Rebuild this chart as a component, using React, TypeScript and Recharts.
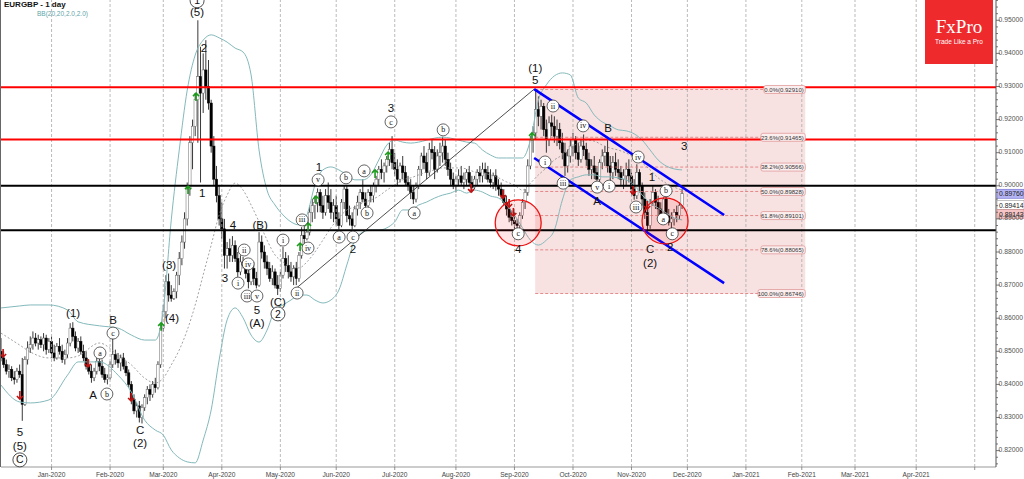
import React from 'react';
import {
  ComposedChart, Bar, Line, Scatter, XAxis, YAxis,
  ReferenceLine, ReferenceArea, ReferenceDot,
} from 'recharts';

// EURGBP daily, Dec 2019 - Nov 2020, prices in pips (0.8500 -> 8500)
const opens = [
  8500, 8480, 8460, 8440, 8445, 8420, 8415, 8440, 8430, 8340, 8475, 8510, 8520, 8540, 8525, 8535, 8520, 8540, 8505, 8530,
  8495, 8480, 8515, 8500, 8475, 8490, 8525, 8570, 8545, 8510, 8530, 8500, 8480, 8455, 8440, 8420, 8440, 8470, 8455, 8430,
  8415, 8420, 8460, 8490, 8475, 8465, 8480, 8455, 8435, 8400, 8355, 8320, 8335, 8300, 8330, 8360, 8385, 8370, 8400, 8390,
  8460, 8570, 8620, 8710, 8670, 8660, 8680, 8730, 8780, 8830, 8900, 8990, 9130, 9180, 9260, 9330, 9280, 9350, 9300, 9250,
  9120, 9020, 8970, 8900, 8870, 8790, 8810, 8790, 8820, 8780, 8740, 8770, 8760, 8735, 8710, 8750, 8720, 8700, 8830, 8800,
  8770, 8750, 8720, 8740, 8700, 8690, 8730, 8780, 8760, 8740, 8725, 8750, 8720, 8790, 8850, 8840, 8860, 8920, 8940, 8950,
  8980, 8940, 8920, 8970, 8950, 8920, 8940, 8900, 8880, 8950, 8990, 8910, 8900, 8880, 8930, 8950, 8980, 8960, 8940, 8980,
  8970, 9000, 9020, 9050, 9040, 9060, 9080, 9110, 9070, 9050, 9020, 9060, 9040, 9010, 9000, 8980, 8960, 9000, 9050, 9090,
  9070, 9040, 9110, 9100, 9050, 9090, 9100, 9120, 9080, 9050, 9020, 9000, 9020, 9030, 9010, 9020, 9040, 9010, 8995, 9020,
  9040, 9030, 9050, 9040, 9020, 9010, 9030, 9000, 8990, 8970, 8950, 8930, 8905, 8895, 8885, 8880, 8910, 8950, 8980, 9060,
  9140, 9160, 9230, 9210, 9240, 9170, 9140, 9190, 9180, 9150, 9170, 9130, 9100, 9060, 9090, 9120, 9140, 9100, 9080, 9120,
  9110, 9080, 9050, 9060, 9040, 9020, 9070, 9090, 9100, 9060, 9040, 9070, 9050, 9040, 9020, 9030, 9050, 9030, 8990, 8970,
  9040, 9000, 8960, 8920, 8880, 8950, 8980, 8950, 8930, 8915, 8960, 8910, 8890, 8900, 8920, 8910, 8940,
];
const highs = [
  8540, 8500, 8475, 8460, 8455, 8440, 8450, 8460, 8480, 8485, 8530, 8545, 8560, 8555, 8550, 8545, 8555, 8550, 8540, 8545,
  8520, 8525, 8540, 8520, 8505, 8540, 8585, 8588, 8560, 8540, 8545, 8520, 8500, 8475, 8460, 8450, 8480, 8490, 8475, 8450,
  8430, 8470, 8545, 8505, 8495, 8490, 8495, 8470, 8445, 8410, 8370, 8345, 8350, 8340, 8370, 8395, 8400, 8410, 8420, 8470,
  8580, 8640, 8730, 8735, 8700, 8690, 8740, 8800, 8850, 8920, 9010, 9150, 9200, 9280, 9500, 9420, 9400, 9440, 9380, 9260,
  9150, 9060, 9000, 8950, 8900, 8830, 8840, 8848, 8835, 8800, 8790, 8785, 8775, 8760, 8760, 8770, 8740, 8860, 8850, 8820,
  8790, 8770, 8760, 8750, 8730, 8740, 8815, 8800, 8790, 8770, 8760, 8770, 8800, 8875, 8880, 8870, 8940, 8960, 8970, 8992,
  8990, 8970, 8990, 9010, 8990, 8960, 8970, 8920, 8960, 9000, 9000, 8940, 8920, 8940, 8970, 8990, 9020, 8980, 8990, 9000,
  9010, 9030, 9060, 9080, 9070, 9090, 9130, 9150, 9100, 9080, 9070, 9090, 9060, 9030, 9020, 9000, 9010, 9060, 9100, 9120,
  9100, 9130, 9140, 9120, 9110, 9130, 9148, 9140, 9100, 9070, 9040, 9030, 9050, 9060, 9040, 9050, 9060, 9030, 9030, 9050,
  9060, 9070, 9070, 9060, 9050, 9040, 9050, 9020, 9010, 8990, 8970, 8950, 8925, 8920, 8900, 8920, 8960, 8990, 9080, 9150,
  9180, 9292, 9270, 9260, 9250, 9200, 9210, 9215, 9210, 9200, 9190, 9160, 9130, 9110, 9140, 9160, 9150, 9130, 9140, 9155,
  9130, 9100, 9080, 9090, 9060, 9080, 9110, 9120, 9148, 9090, 9090, 9100, 9080, 9060, 9050, 9070, 9080, 9040, 9020, 9065,
  9050, 9010, 8980, 8940, 8960, 9000, 8990, 8970, 8950, 8965, 8970, 8930, 8920, 8930, 8940, 8950, 8990,
];
const lows = [
  8470, 8450, 8430, 8420, 8410, 8400, 8405, 8420, 8290, 8335, 8460, 8495, 8505, 8515, 8505, 8510, 8500, 8490, 8495, 8480,
  8470, 8475, 8490, 8465, 8460, 8480, 8515, 8530, 8500, 8495, 8490, 8470, 8445, 8430, 8405, 8410, 8430, 8440, 8420, 8405,
  8400, 8415, 8450, 8460, 8450, 8440, 8445, 8425, 8390, 8340, 8310, 8300, 8285, 8282, 8320, 8340, 8350, 8360, 8375, 8385,
  8450, 8560, 8600, 8650, 8650, 8655, 8660, 8700, 8760, 8810, 8880, 8970, 9050, 9150, 9130, 9010, 9220, 9260, 9230, 9100,
  9000, 8950, 8880, 8840, 8750, 8750, 8770, 8770, 8770, 8725, 8730, 8750, 8720, 8690, 8700, 8700, 8690, 8695, 8780, 8750,
  8730, 8710, 8700, 8690, 8670, 8680, 8720, 8740, 8720, 8710, 8700, 8700, 8710, 8780, 8820, 8835, 8850, 8890, 8900, 8920,
  8920, 8900, 8910, 8930, 8900, 8890, 8880, 8868, 8875, 8930, 8890, 8880, 8868, 8875, 8910, 8930, 8950, 8920, 8930, 8950,
  8950, 8980, 9000, 9020, 9010, 9040, 9060, 9050, 9030, 9000, 9010, 9020, 9000, 8985, 8960, 8945, 8950, 8990, 9030, 9050,
  9020, 9030, 9080, 9020, 9040, 9060, 9070, 9060, 9030, 9000, 8990, 8980, 9000, 9000, 8990, 9000, 9000, 8980, 8990, 9000,
  9010, 9010, 9020, 9010, 8995, 8990, 8985, 8970, 8960, 8940, 8910, 8890, 8880, 8870, 8865, 8870, 8900, 8930, 8970, 9050,
  9100, 9140, 9180, 9170, 9150, 9100, 9120, 9150, 9130, 9120, 9110, 9080, 9030, 9040, 9070, 9090, 9080, 9060, 9070, 9090,
  9060, 9030, 9020, 9020, 9015, 9010, 9050, 9060, 9040, 9010, 9020, 9030, 9020, 9000, 8990, 9000, 9010, 8970, 8958, 8960,
  8980, 8940, 8900, 8860, 8870, 8940, 8930, 8910, 8910, 8910, 8900, 8880, 8868, 8880, 8890, 8900, 8930,
];
const closes = [
  8480, 8460, 8440, 8445, 8420, 8415, 8440, 8430, 8340, 8475, 8510, 8520, 8540, 8525, 8535, 8520, 8540, 8505, 8530, 8495,
  8480, 8515, 8500, 8475, 8490, 8525, 8570, 8545, 8510, 8530, 8500, 8480, 8455, 8440, 8420, 8440, 8470, 8455, 8430, 8415,
  8420, 8460, 8490, 8475, 8465, 8480, 8455, 8435, 8400, 8355, 8320, 8335, 8300, 8330, 8360, 8385, 8370, 8400, 8390, 8460,
  8570, 8620, 8710, 8670, 8660, 8680, 8730, 8780, 8830, 8900, 8990, 9130, 9180, 9260, 9330, 9280, 9350, 9300, 9250, 9120,
  9020, 8970, 8900, 8870, 8790, 8810, 8790, 8820, 8780, 8740, 8770, 8760, 8735, 8710, 8750, 8720, 8700, 8830, 8800, 8770,
  8750, 8720, 8740, 8700, 8690, 8730, 8780, 8760, 8740, 8725, 8750, 8720, 8790, 8850, 8840, 8860, 8920, 8940, 8950, 8980,
  8940, 8920, 8970, 8950, 8920, 8940, 8900, 8880, 8950, 8990, 8910, 8900, 8880, 8930, 8950, 8980, 8960, 8940, 8980, 8970,
  9000, 9020, 9050, 9040, 9060, 9080, 9110, 9070, 9050, 9020, 9060, 9040, 9010, 9000, 8980, 8960, 9000, 9050, 9090, 9070,
  9040, 9110, 9100, 9050, 9090, 9100, 9120, 9080, 9050, 9020, 9000, 9020, 9030, 9010, 9020, 9040, 9010, 8995, 9020, 9040,
  9030, 9050, 9040, 9020, 9010, 9030, 9000, 8990, 8970, 8950, 8930, 8905, 8895, 8885, 8880, 8910, 8950, 8980, 9060, 9140,
  9160, 9230, 9210, 9240, 9170, 9140, 9190, 9180, 9150, 9170, 9130, 9100, 9060, 9090, 9120, 9140, 9100, 9080, 9120, 9110,
  9080, 9050, 9060, 9040, 9020, 9070, 9090, 9100, 9060, 9040, 9070, 9050, 9040, 9020, 9030, 9050, 9030, 8990, 8970, 9040,
  9000, 8960, 8920, 8880, 8950, 8980, 8950, 8930, 8915, 8960, 8910, 8890, 8900, 8920, 8910, 8940, 8976,
];

// Bollinger band (20,2) read at sparse bars
const bbIdx = [1, 8, 12, 19, 26, 30, 38, 45, 50, 55, 59, 62, 65, 68, 71, 74, 77, 80, 83, 86, 89, 92, 95, 98, 101, 104, 107, 110, 113, 116, 119, 122, 125, 128, 131, 134, 137, 140, 143, 146, 149, 152, 155, 158, 161, 164, 167, 170, 173, 176, 179, 182, 185, 188, 191, 194, 197, 200, 203, 206, 209, 212, 215, 218, 221, 224, 227, 230, 233, 236, 239, 242, 245, 248, 251, 254, 257];
const bbUpper = [8631, 8637, 8640, 8640, 8625, 8589, 8577, 8570, 8549, 8534, 8534, 8625, 8897, 9108, 9289, 9395, 9440, 9456, 9447, 9434, 9416, 9404, 9335, 9108, 8987, 8942, 8912, 8891, 8882, 8912, 9002, 9048, 9057, 9048, 9033, 9018, 9018, 9033, 9078, 9123, 9138, 9132, 9129, 9132, 9138, 9144, 9147, 9144, 9138, 9132, 9129, 9108, 9093, 9084, 9084, 9084, 9084, 9138, 9259, 9305, 9332, 9341, 9335, 9265, 9250, 9214, 9193, 9181, 9169, 9166, 9157, 9138, 9108, 9078, 9060, 9051, 9048];
const bbMid = [8555, 8519, 8498, 8480, 8480, 8486, 8525, 8489, 8459, 8419, 8404, 8419, 8459, 8504, 8564, 8640, 8731, 8821, 8912, 8972, 9008, 8987, 8942, 8891, 8836, 8791, 8770, 8755, 8752, 8770, 8800, 8836, 8873, 8903, 8927, 8936, 8948, 8957, 8969, 8987, 9002, 9018, 9024, 9033, 9042, 9048, 9054, 9054, 9054, 9051, 9042, 9039, 9033, 9024, 9012, 9002, 8987, 9008, 9033, 9054, 9078, 9093, 9114, 9129, 9138, 9135, 9123, 9114, 9108, 9099, 9087, 9069, 9048, 9024, 9008, 8996, 8987];
const bbLower = [8398, 8347, 8344, 8353, 8428, 8468, 8468, 8428, 8377, 8292, 8262, 8247, 8202, 8178, 8166, 8163, 8232, 8323, 8474, 8595, 8631, 8601, 8549, 8528, 8564, 8625, 8640, 8655, 8670, 8670, 8655, 8646, 8655, 8685, 8761, 8836, 8860, 8866, 8866, 8873, 8891, 8927, 8927, 8942, 8951, 8963, 8972, 8978, 8987, 8978, 8987, 8981, 8969, 8963, 8942, 8912, 8873, 8836, 8821, 8836, 8866, 8957, 9018, 9027, 9033, 9033, 9027, 9027, 9024, 9018, 9002, 8972, 8948, 8933, 8918, 8903, 8897];

// signal arrows [bar, price]
const upArrows = [[61.2, 8574], [71.3, 8987], [74.3, 9268], [113.4, 8815], [116.4, 8876], [119.4, 8957], [141.6, 9036], [146.5, 9090], [200.6, 9148]];
const downArrows = [[1.8, 8495], [8.1, 8368], [33.7, 8465], [49.9, 8362], [177.7, 8993], [189.7, 8975], [192, 8948], [193.6, 8921], [238.6, 8987], [243.9, 8942]];

// Elliott wave labels [bar, price, text, style] style 0 plain, 1 small circle, 2 big circle
const waveLabels: [number, number, string, number][] = [
  [8.1, 8256, '5', 0], [8.1, 8214, '(5)', 0], [8.1, 8172, 'C', 2], [28.1, 8616, '(1)', 0],
  [35.6, 8368, 'A', 0], [38.2, 8495, 'a', 1], [40.8, 8371, 'b', 1], [43.1, 8555, 'c', 1], [43.1, 8594, 'B', 0],
  [53.3, 8262, 'C', 0], [53.3, 8223, '(2)', 0], [64.2, 8761, '(3)', 0], [65.3, 8601, '(4)', 0],
  [74.7, 9525, '(5)', 0], [74.7, 9559, '1', 2], [77.3, 9416, '2', 0], [76.6, 8978, '1', 0],
  [85.2, 8722, '3', 0], [88.2, 8882, '4', 0], [90.1, 8706, 'i', 1], [92.4, 8806, 'ii', 1], [93.9, 8764, 'iv', 1],
  [93.5, 8667, 'iii', 1], [97.2, 8667, 'v', 1], [97.2, 8625, '5', 0], [97.2, 8585, '(A)', 0], [98.4, 8882, '(B)', 0],
  [105.1, 8649, '(C)', 0], [105.1, 8613, '2', 2], [107, 8836, 'i', 1], [112.3, 8676, 'ii', 1], [114.2, 8897, 'iii', 1],
  [116.4, 8812, 'iv', 1], [120.2, 9018, 'v', 1], [120.5, 9057, '1', 0], [128.1, 8845, 'a', 1], [130.7, 9024, 'b', 1],
  [133.3, 8845, 'c', 1], [133.3, 8809, '2', 0], [137.5, 9045, 'a', 1], [138.6, 8918, 'b', 1], [147.6, 9193, 'c', 1],
  [147.6, 9235, '3', 0], [156.3, 8918, 'a', 1], [167.2, 9169, 'b', 1], [195.4, 8855, 'c', 1], [195.4, 8809, '4', 0],
  [201.8, 9356, '(1)', 0], [201.8, 9320, '5', 0], [208.5, 9241, 'ii', 1], [205.5, 9072, 'i', 1], [212.3, 9008, 'iii', 1],
  [219.8, 9181, 'iv', 1], [225.1, 8996, 'v', 1], [225.1, 8954, 'A', 0], [229.2, 9175, 'B', 0], [229.6, 8999, 'i', 1],
  [239.7, 8936, 'iii', 1], [240.5, 9087, 'iv', 1], [245.7, 9027, '1', 0], [251, 8985, 'b', 1], [249.9, 8900, 'a', 1],
  [253.3, 8855, 'c', 1], [245, 8809, 'C', 0], [245, 8767, '(2)', 0], [252.5, 8815, '2', 0], [257.8, 9120, '3', 0],
];

const fibPct = ['0.0', '23.6', '38.2', '50.0', '61.8', '78.6', '100.0'];
const fibVal = [0.9291, 0.91465, 0.90566, 0.89828, 0.89101, 0.88065, 0.86746];
const fibStart = 201.8;
const fibEnd = 303.3;

const redLevels = [0.9298, 0.914];
const blackLevels = [0.9, 0.8866];

const channelUpper = [{ x: 201.4, y: 0.9292 }, { x: 272.8, y: 0.8912 }];
const channelLower = [{ x: 201.4, y: 0.9084 }, { x: 272.8, y: 0.8706 }];
const trendLine = [{ x: 110.4, y: 0.868 }, { x: 201.4, y: 0.9292 }];
const circles = [[195.4, 0.8888], [250.6, 0.8894]];

const priceTags = [
  { p: 0.8976, t: '0.89760', bg: '#b4b4f4', bd: '#6666cc' },
  { p: 0.89414, t: '0.89414', bg: '#ffffff', bd: '#999999' },
  { p: 0.89143, t: '0.89143', bg: '#f6c4c4', bd: '#cc8888' },
];

const monthTicks = [20, 42, 62, 84, 106, 127, 149, 172, 194, 216, 238, 259, 281, 302, 322, 345, 367];
const monthLabels = ['Jan-2020', 'Feb-2020', 'Mar-2020', 'Apr-2020', 'May-2020', 'Jun-2020', 'Jul-2020', 'Aug-2020', 'Sep-2020', 'Oct-2020', 'Nov-2020', 'Dec-2020', 'Jan-2021', 'Feb-2021', 'Mar-2021', 'Apr-2021', ''];

const Y_MIN = 0.81505;
const Y_MAX = 0.95613;
const FONT = '"Liberation Sans", Arial, sans-serif';

const candles = closes.map((c, k) => ({
  i: k + 1, o: opens[k] / 1e4, h: highs[k] / 1e4, l: lows[k] / 1e4, c: c / 1e4,
}));
const bbData = bbIdx.map((i, k) => ({ i, u: bbUpper[k] / 1e4, m: bbMid[k] / 1e4, d: bbLower[k] / 1e4 }));
const upData = upArrows.map(([i, p]) => ({ i, p: p / 1e4 }));
const downData = downArrows.map(([i, p]) => ({ i, p: p / 1e4 }));
const waveData = waveLabels.map(([i, p, t, s]) => ({ i, p: p / 1e4, t, s }));
const fibLabelData = fibVal.map((v, k) => ({ i: fibEnd, p: v, t: `${fibPct[k]}%(${v.toFixed(5)})` }));
const tagData = priceTags.map((t) => ({ ...t, i: 375 }));

const yTicks: number[] = [];
for (let k = 816; k <= 956; k += 2) yTicks.push(k / 1000);

const Candle = (props: any) => {
  const { x, y, width, height, payload } = props;
  if (x == null || !payload) return null;
  const { o, h, l, c } = payload;
  const cx = x + width / 2;
  const k = height / (h - l || 1e-6);
  const yo = y + (h - o) * k;
  const yc = y + (h - c) * k;
  const up = c >= o;
  return (
    <g>
      <line x1={cx} x2={cx} y1={y} y2={y + height} stroke="#222" strokeWidth={0.9} />
      <rect x={cx - 1.2} y={Math.min(yo, yc)} width={2.4} height={Math.max(1, Math.abs(yc - yo))}
        fill={up ? '#fff' : '#000'} stroke={up ? '#666' : '#000'} strokeWidth={0.5} />
    </g>
  );
};

const UpArrow = ({ cx, cy }: any) => (
  <g stroke="#1a9a1a" strokeWidth={1.6} fill="none">
    <line x1={cx} x2={cx} y1={cy - 4} y2={cy + 4} />
    <polyline points={`${cx - 3},${cy - 1} ${cx},${cy - 4} ${cx + 3},${cy - 1}`} />
  </g>
);
const DownArrow = ({ cx, cy }: any) => (
  <g stroke="#c01010" strokeWidth={1.6} fill="none">
    <line x1={cx} x2={cx} y1={cy - 4} y2={cy + 4} />
    <polyline points={`${cx - 3},${cy + 1} ${cx},${cy + 4} ${cx + 3},${cy + 1}`} />
  </g>
);

const WaveLabel = ({ cx, cy, payload }: any) => {
  if (payload.s === 1) {
    return (
      <g>
        <circle cx={cx} cy={cy} r={6} fill="#fff" stroke="#222" strokeWidth={0.7} />
        <text x={cx} y={cy + 2.6} textAnchor="middle" fontSize={8} fontFamily='"Liberation Serif", serif' fill="#111">{payload.t}</text>
      </g>
    );
  }
  if (payload.s === 2) {
    return (
      <g>
        <circle cx={cx} cy={cy} r={7} fill="#fff" stroke="#222" strokeWidth={0.8} />
        <text x={cx} y={cy + 3.6} textAnchor="middle" fontSize={10.5} fontFamily={FONT} fill="#111">{payload.t}</text>
      </g>
    );
  }
  return <text x={cx} y={cy + 4} textAnchor="middle" fontSize={11.5} fontFamily={FONT} fill="#111">{payload.t}</text>;
};

const FibLabel = ({ cx, cy, payload }: any) => {
  const w = payload.t.length * 2.95 + 3;
  return (
    <g>
      <rect x={cx - w} y={cy - 4} width={w} height={8} rx={2} fill="#fbeeee" stroke="#e09a9a" strokeWidth={0.8} />
      <text x={cx - 1.5} y={cy + 2.2} textAnchor="end" fontSize={6} fontFamily={FONT} fill="#333">{payload.t}</text>
    </g>
  );
};

const PriceTag = ({ cx, cy, payload }: any) => (
  <g>
    <rect x={cx + 1} y={cy - 4.5} width={27} height={9} fill={payload.bg} stroke={payload.bd} strokeWidth={0.6} />
    <text x={cx + 3} y={cy + 2.5} fontSize={6.8} fontFamily={FONT} fill="#222">{payload.t}</text>
  </g>
);

const YTick = ({ x, y, payload }: any) => {
  const major = Math.round(payload.value * 1000) % 10 === 0;
  return (
    <g>
      <line x1={x} x2={x + (major ? 4 : 2)} y1={y} y2={y} stroke="#555" strokeWidth={0.8} />
      {major && (
        <text x={x + 2.5} y={y + 1.5} fontSize={6.8} fontFamily={FONT} fill="#555">{payload.value.toFixed(5)}</text>
      )}
    </g>
  );
};

const XTick = ({ x, y, payload }: any) => {
  const k = monthTicks.indexOf(payload.value);
  return (
    <g>
      <line x1={x} x2={x} y1={y} y2={y + 3} stroke="#777" strokeWidth={0.8} />
      <text x={x} y={y + 9.5} textAnchor="middle" fontSize={6.6} fontFamily={FONT} fill="#444">{monthLabels[k]}</text>
    </g>
  );
};

export default function App() {
  return (
    <div style={{ position: 'relative', width: 1024, height: 479, overflow: 'hidden', background: '#fff', fontFamily: FONT }}>
      <style>{'body{margin:0}'}</style>
      <ComposedChart width={1024} height={479} data={candles} margin={{ top: 0, right: 0, bottom: 0, left: 1 }}>
        <XAxis dataKey="i" type="number" domain={[1, 375]} ticks={monthTicks} interval={0}
          tick={<XTick />} tickLine={false} tickSize={0} tickMargin={0} height={12} axisLine={{ stroke: '#999' }} />
        <YAxis orientation="right" type="number" domain={[Y_MIN, Y_MAX]} ticks={yTicks} interval={0}
          tick={<YTick />} tickLine={false} tickSize={0} tickMargin={0} width={28} axisLine={{ stroke: '#555' }} />

        <ReferenceArea x1={fibStart} x2={fibEnd} y1={fibVal[6]} y2={fibVal[0]} fill="#eeb4b4" fillOpacity={0.4} stroke="none" />
        {monthTicks.map((m) => (
          <ReferenceLine key={`g${m}`} x={m} stroke="#aaa" strokeWidth={0.8} strokeDasharray="3 2" />
        ))}
        {fibVal.map((v) => (
          <ReferenceLine key={`f${v}`} segment={[{ x: fibStart, y: v }, { x: fibEnd, y: v }]}
            stroke="#e07272" strokeWidth={0.8} strokeDasharray="3 2" />
        ))}

        <Line data={bbData} dataKey="u" type="monotone" stroke="#84b9bb" strokeWidth={1} dot={false} isAnimationActive={false} />
        <Line data={bbData} dataKey="d" type="monotone" stroke="#84b9bb" strokeWidth={1} dot={false} isAnimationActive={false} />
        <Line data={bbData} dataKey="m" type="monotone" stroke="#8a8a8a" strokeWidth={0.8} strokeDasharray="2 2" dot={false} isAnimationActive={false} />

        {redLevels.map((v) => <ReferenceLine key={`r${v}`} y={v} stroke="#ff0000" strokeWidth={2} />)}
        {blackLevels.map((v) => <ReferenceLine key={`b${v}`} y={v} stroke="#000" strokeWidth={2} />)}

        {circles.map(([i, p]) => (
          <ReferenceDot key={`c${i}`} x={i} y={p} r={23} fill="#ff0000" fillOpacity={0.1} stroke="#ee1111" strokeWidth={1.3} />
        ))}

        <Bar dataKey={(d: any) => [d.l, d.h]} barSize={3} shape={<Candle />} isAnimationActive={false} />

        <ReferenceLine segment={trendLine} stroke="#222" strokeWidth={0.8} />
        <ReferenceLine segment={channelUpper} stroke="#0000ff" strokeWidth={2.5} />
        <ReferenceLine segment={channelLower} stroke="#0000ff" strokeWidth={2.5} />

        <Scatter data={upData} dataKey="p" shape={<UpArrow />} isAnimationActive={false} />
        <Scatter data={downData} dataKey="p" shape={<DownArrow />} isAnimationActive={false} />
        <Scatter data={waveData} dataKey="p" shape={<WaveLabel />} isAnimationActive={false} />
        <Scatter data={fibLabelData} dataKey="p" shape={<FibLabel />} isAnimationActive={false} />
        <Scatter data={tagData} dataKey="p" shape={<PriceTag />} isAnimationActive={false} />
      </ComposedChart>

      <div style={{ position: 'absolute', left: 0, top: 0, width: 1, height: 467, background: '#666' }} />
      <div style={{ position: 'absolute', left: 4, top: 0, fontSize: 8, fontWeight: 'bold', color: '#111' }}>EURGBP - 1 day</div>
      <div style={{ position: 'absolute', left: 37, top: 10, fontSize: 6.5, color: '#5fa5a8' }}>BB(20,20,2.0,2.0)</div>
      <div style={{ position: 'absolute', left: 925, top: 0, width: 68, height: 64, background: '#ef2a2d', color: '#fff', textAlign: 'center' }}>
        <div style={{ fontFamily: '"Liberation Serif", serif', fontSize: 19, marginTop: 17, lineHeight: '20px' }}>FxPro</div>
        <div style={{ fontSize: 6.5, lineHeight: '8px', marginTop: 1 }}>Trade Like a Pro</div>
      </div>
    </div>
  );
}
